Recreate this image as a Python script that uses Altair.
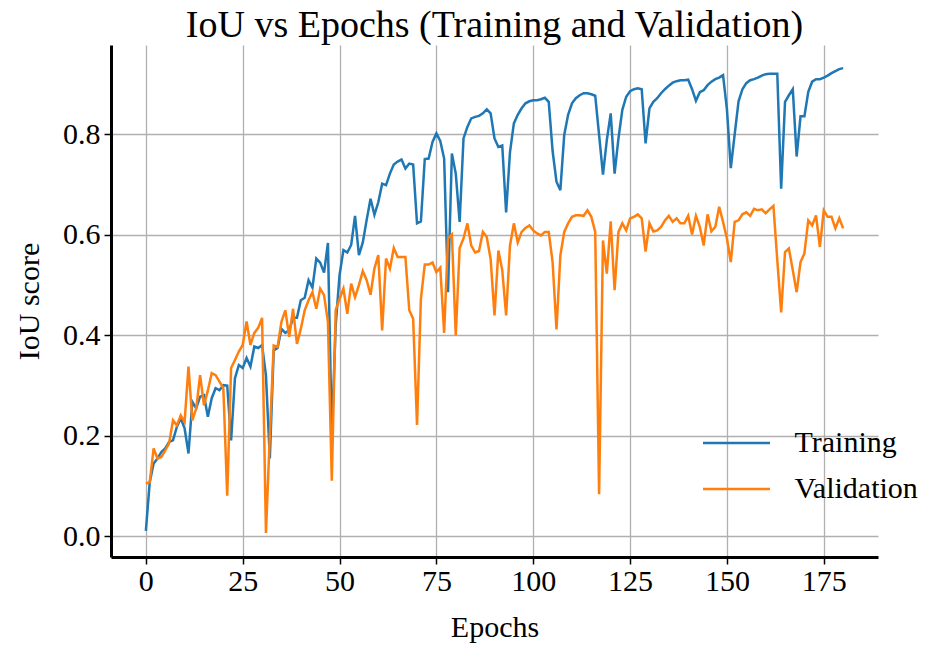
import altair as alt
import pandas as pd

epochs = list(range(181))

training_iou = [
    0.011, 0.108, 0.145, 0.155, 0.168, 0.175, 0.188, 0.191, 0.218, 0.235,
    0.215, 0.165, 0.268, 0.255, 0.278, 0.281, 0.238, 0.275, 0.295, 0.291,
    0.301, 0.300, 0.191, 0.315, 0.341, 0.335, 0.355, 0.338, 0.378, 0.375,
    0.381, 0.320, 0.155, 0.370, 0.375, 0.413, 0.405, 0.410, 0.435, 0.435,
    0.470, 0.475, 0.510, 0.495, 0.553, 0.545, 0.525, 0.584, 0.200, 0.420,
    0.520, 0.570, 0.565, 0.580, 0.638, 0.560, 0.585, 0.630, 0.672, 0.640,
    0.665, 0.702, 0.699, 0.722, 0.740, 0.746, 0.750, 0.732, 0.742, 0.740,
    0.623, 0.627, 0.751, 0.752, 0.785, 0.802, 0.787, 0.752, 0.486, 0.762,
    0.722, 0.626, 0.792, 0.815, 0.832, 0.835, 0.837, 0.842, 0.850, 0.842,
    0.792, 0.775, 0.778, 0.645, 0.765, 0.822, 0.839, 0.852, 0.862, 0.866,
    0.868, 0.868, 0.870, 0.873, 0.865, 0.767, 0.706, 0.689, 0.799, 0.839,
    0.862, 0.872, 0.878, 0.882, 0.882, 0.880, 0.877, 0.799, 0.720, 0.789,
    0.842, 0.722, 0.792, 0.849, 0.875, 0.886, 0.890, 0.892, 0.890, 0.782,
    0.852, 0.865, 0.872, 0.882, 0.890, 0.897, 0.903, 0.906, 0.908, 0.908,
    0.909, 0.890, 0.867, 0.884, 0.888, 0.898, 0.905, 0.910, 0.913, 0.918,
    0.850, 0.733, 0.800, 0.866, 0.890, 0.902, 0.908, 0.910, 0.913, 0.917,
    0.920, 0.921, 0.921, 0.921, 0.692, 0.865, 0.878, 0.890, 0.756, 0.836,
    0.836, 0.885, 0.905, 0.910, 0.910, 0.913, 0.917, 0.922, 0.926, 0.930,
    0.932,
]

validation_iou = [
    0.105, 0.108, 0.175, 0.155, 0.158, 0.171, 0.185, 0.231, 0.221, 0.241,
    0.228, 0.338, 0.231, 0.255, 0.321, 0.261, 0.290, 0.325, 0.321, 0.308,
    0.295, 0.081, 0.335, 0.351, 0.368, 0.381, 0.428, 0.381, 0.405, 0.415,
    0.435, 0.007, 0.200, 0.380, 0.377, 0.427, 0.450, 0.397, 0.453, 0.383,
    0.413, 0.450, 0.470, 0.486, 0.453, 0.493, 0.480, 0.427, 0.111, 0.450,
    0.473, 0.493, 0.443, 0.503, 0.476, 0.500, 0.528, 0.510, 0.481, 0.533,
    0.560, 0.410, 0.553, 0.533, 0.574, 0.556, 0.556, 0.556, 0.450, 0.433,
    0.222, 0.473, 0.541, 0.541, 0.545, 0.526, 0.535, 0.405, 0.593, 0.601,
    0.400, 0.574, 0.593, 0.623, 0.579, 0.565, 0.568, 0.606, 0.596, 0.552,
    0.440, 0.569, 0.530, 0.440, 0.579, 0.623, 0.585, 0.606, 0.614, 0.619,
    0.609, 0.603, 0.599, 0.606, 0.606, 0.546, 0.412, 0.559, 0.606, 0.623,
    0.636, 0.639, 0.639, 0.638, 0.649, 0.636, 0.606, 0.084, 0.589, 0.523,
    0.627, 0.490, 0.606, 0.623, 0.609, 0.633, 0.636, 0.641, 0.633, 0.567,
    0.623, 0.607, 0.609, 0.616, 0.629, 0.638, 0.626, 0.633, 0.623, 0.623,
    0.638, 0.601, 0.638, 0.616, 0.579, 0.641, 0.607, 0.616, 0.656, 0.626,
    0.593, 0.546, 0.626, 0.629, 0.641, 0.645, 0.638, 0.652, 0.649, 0.651,
    0.643, 0.651, 0.658, 0.550, 0.446, 0.566, 0.573, 0.530, 0.486, 0.546,
    0.563, 0.629, 0.619, 0.639, 0.576, 0.649, 0.636, 0.636, 0.613, 0.633,
    0.613,
]

series_names = ["Training", "Validation"]
series_colors = ["#1f77b4", "#ff7f0e"]
x_ticks = [0, 25, 50, 75, 100, 125, 150, 175]
y_ticks = [0.0, 0.2, 0.4, 0.6, 0.8]

df = pd.DataFrame({
    "Epoch": epochs + epochs,
    "IoU": training_iou + validation_iou,
    "Series": [series_names[0]] * len(epochs) + [series_names[1]] * len(epochs),
})

FONT = "Liberation Serif"

axis_common = dict(
    grid=True,
    gridColor="#b0b0b0",
    gridWidth=1.3,
    domainColor="black",
    domainWidth=3,
    tickColor="black",
    tickWidth=1.5,
    tickSize=7,
    labelFont=FONT,
    labelFontSize=30,
    labelColor="black",
    titleFont=FONT,
    titleFontSize=30,
    titleFontWeight="normal",
    titleColor="black",
)

chart = alt.Chart(df).mark_line(strokeWidth=2.5).encode(
    x=alt.X(
        "Epoch:Q",
        scale=alt.Scale(domain=[-9, 189], nice=False, zero=False),
        axis=alt.Axis(values=x_ticks, title="Epochs", labelPadding=2, titlePadding=16, **axis_common),
    ),
    y=alt.Y(
        "IoU:Q",
        scale=alt.Scale(domain=[-0.041, 0.978], nice=False, zero=False),
        axis=alt.Axis(values=y_ticks, format=".1f", title="IoU score", labelPadding=4, titlePadding=18, **axis_common),
    ),
    color=alt.Color(
        "Series:N",
        scale=alt.Scale(domain=series_names, range=series_colors),
        legend=alt.Legend(
            title=None,
            orient="none",
            legendX=592,
            legendY=380,
            symbolType="M-2,0H2",
            symbolSize=1122,
            symbolStrokeWidth=2.5,
            symbolOffset=15.5,
            labelOffset=40,
            labelFont=FONT,
            labelFontSize=30,
            labelColor="black",
            labelLimit=300,
            rowPadding=13,
            padding=0,
        ),
    ),
).properties(
    width=767,
    height=512,
    title=alt.TitleParams(
        text="IoU vs Epochs (Training and Validation)",
        font=FONT,
        fontSize=38,
        fontWeight="normal",
        color="black",
        anchor="middle",
        offset=0,
    ),
    padding={"left": 111, "top": 45, "right": 49, "bottom": 90},
    autosize=alt.AutoSizeParams(type="none"),
).configure_view(stroke=None)

chart.save("out.html", embed_options={"renderer": "svg", "actions": False})
